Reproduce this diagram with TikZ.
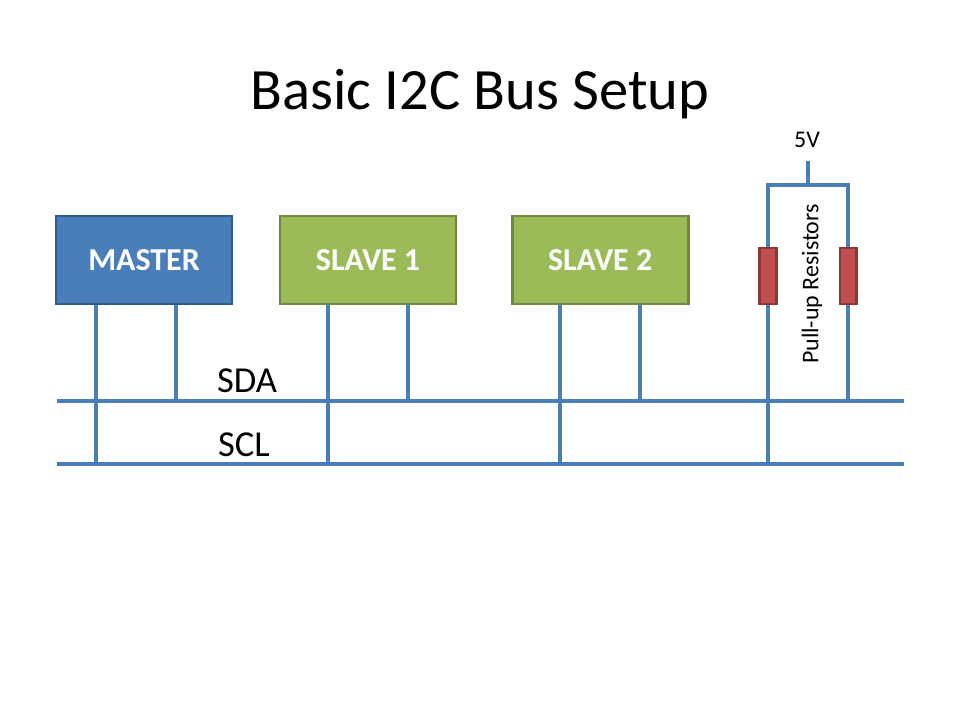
\documentclass[tikz,border=0pt]{standalone}
\usepackage{xcolor}
\usepackage{fontspec}
\setmainfont{Carlito}
\usetikzlibrary{positioning}
\definecolor{wireblue}{HTML}{4A7EBB}
\definecolor{masterfill}{HTML}{4A7EBA}
\definecolor{masterline}{HTML}{2F5A8C}
\definecolor{slavefill}{HTML}{9BBB59}
\definecolor{slaveline}{HTML}{71893F}
\definecolor{resfill}{HTML}{C0504D}
\definecolor{resline}{HTML}{8C3836}
\tikzset{
  chip/.style={draw,line width=2pt,minimum width=4.4cm,minimum height=2.2cm,text=white,font=\fontsize{22.7}{26}\selectfont\bfseries},
  res/.style={draw=resline,fill=resfill,line width=1.6pt,minimum width=0.42cm,minimum height=1.4cm,inner sep=0pt},
  wire/.style={draw=wireblue,line width=2.2pt},
  buslabel/.style={font=\fontsize{26}{30}\selectfont,inner sep=0pt}
}
\begin{document}
\begin{tikzpicture}[x=0.025cm,y=-0.025cm,node distance = 5.6cm]
\useasboundingbox (0,0) rectangle (960,720);
\node[inner sep=0pt,font=\fontsize{41.6}{48}\selectfont] (title) at (480,94) {Basic I2C Bus Setup};

% bus ends
\coordinate (sdaL) at (57,401);
\coordinate (sdaR) at (904,401);
\coordinate (sclL) at (57,464);
\coordinate (sclR) at (904,464);
\draw[wire] (sdaL) -- (sdaR);
\draw[wire] (sclL) -- (sclR);

% pins
\coordinate (m1) at (96,304);
\coordinate (m2) at (176,304);
\coordinate (s1a) at (328,304);
\coordinate (s1b) at (408,304);
\coordinate (s2a) at (560,304);
\coordinate (s2b) at (640,304);
\draw[wire] (m1) -- (m1 |- sclL);
\draw[wire] (m2) -- (m2 |- sdaL);
\draw[wire] (s1a) -- (s1a |- sclL);
\draw[wire] (s1b) -- (s1b |- sdaL);
\draw[wire] (s2a) -- (s2a |- sclL);
\draw[wire] (s2b) -- (s2b |- sdaL);

\node[chip,fill=masterfill,draw=masterline] (master) at (144,260) {\raisebox{-1.7pt}{MASTER}};
\node[chip,fill=slavefill,draw=slaveline] (slave1) [right of = master] {\raisebox{-1.7pt}{SLAVE 1}};
\node[chip,fill=slavefill,draw=slaveline,node distance = 5.8cm] (slave2) [right of = slave1] {\raisebox{-1.7pt}{SLAVE 2}};

\node[buslabel] (sda) at (247,381) {SDA};
\node[buslabel] (scl) at (244,445) {SCL};

% pull-ups
\coordinate (vcc) at (808,161);
\coordinate (top) at (808,185);
\node[res] (r1) at (768,276) {};
\node[res,node distance = 2cm] (r2) [right of = r1] {};
\draw[wire] (vcc) -- (top);
\draw[wire] (r1.north) |- (top) -| (r2.north);
\draw[wire] (r1.south) -- (r1.south |- sclL);
\draw[wire] (r2.south) -- (r2.south |- sdaL);

\node[inner sep=0pt,font=\fontsize{17}{20}\selectfont] (five) at (807,140) {5V};
\node[inner sep=0pt,rotate=90,font=\fontsize{17}{20}\selectfont] (pull) at (812,284) {Pull-up Resistors};
\end{tikzpicture}
\end{document}
